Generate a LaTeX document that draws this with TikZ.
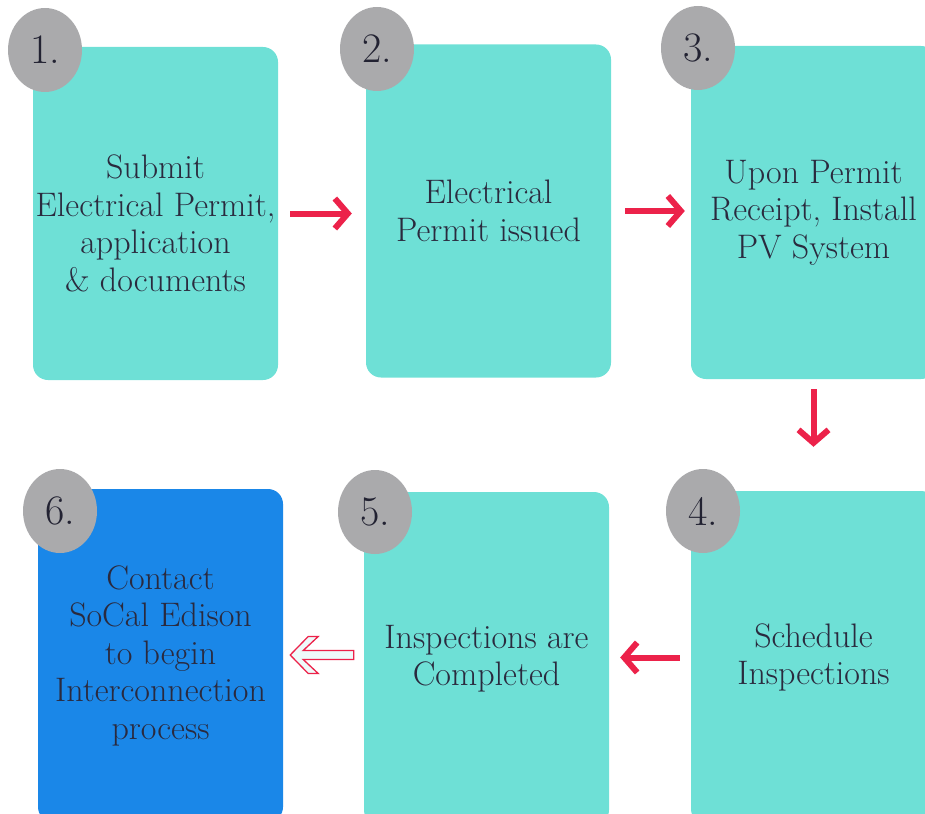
\documentclass[tikz,border=0pt]{standalone}
\usepackage{xcolor}
\usepackage{tikz}
\usetikzlibrary{arrows.meta,positioning,shapes.geometric}

\definecolor{boxteal}{RGB}{110,224,214}
\definecolor{boxblue}{RGB}{26,135,232}
\definecolor{dotgray}{RGB}{170,170,172}
\definecolor{arrowred}{RGB}{236,34,74}
\definecolor{inkdark}{RGB}{42,42,62}
\definecolor{hollowfill}{RGB}{238,250,250}

\begin{document}
\begin{tikzpicture}[
  x=1pt, y=-1pt,
  stepbox/.style={rounded corners=15pt, minimum width=245pt, minimum height=333pt, inner sep=0pt, align=center, fill=boxteal, text=inkdark, font=\fontsize{34}{37.5}\selectfont},
  numdot/.style={ellipse, minimum width=74pt, minimum height=84pt, inner sep=0pt, fill=dotgray, text=inkdark!80!black, font=\fontsize{42}{42}\selectfont},
  flow/.style={-{Straight Barb[length=13pt,width=30pt]}, line width=6pt, draw=arrowred},
  hollowflow/.style={draw=arrowred, fill=hollowfill, line width=1.3pt, line join=miter}
]
\clip (0,0) rectangle (925,813);

\node[stepbox] (submit) at (155.5,213.5) {\rule{0pt}{44pt}Submit\\Electrical Permit,\\application\\\& documents};
\node[stepbox] (issued) at (488.5,211) {Electrical\\Permit issued};
\node[stepbox] (install) at (813.5,212.5) {Upon Permit\\Receipt, Install\\PV System};
\node[stepbox] (schedule) at (813.5,657.5) {Schedule\\Inspections};
\node[stepbox] (inspect) at (486.5,658.5) {Inspections are\\Completed};
\node[stepbox, fill=boxblue] (contact) at (160.5,655.5) {Contact\\SoCal Edison\\to begin\\Interconnection\\process};

\node[numdot] (num1) at (45,50) {1.};
\node[numdot] (num2) at (377,49) {2.};
\node[numdot] (num3) at (698,48) {3.};
\node[numdot] (num4) at (703,511) {4.};
\node[numdot] (num5) at (375,512) {5.};
\node[numdot] (num6) at (60,511) {6.};

\draw[flow, shorten <=12pt, shorten >=14pt] (submit.east) -- (issued.west |- submit.east);
\draw[flow, shorten <=14pt, shorten >=6pt] (issued.east) -- (install.west |- issued.east);
\draw[flow, shorten <=10pt, shorten >=44pt] (install.south) -- (schedule.north);
\draw[flow, shorten <=11pt, shorten >=11pt] (schedule.west) -- (inspect.east |- schedule.west);

% hollow arrow from 5 to 6
\path (contact.east |- inspect.west) ++(7,-3.5) coordinate (hollowtip);
\path (inspect.west) ++(-10,0) coordinate (hollowtail);
\draw[hollowflow] (hollowtip) -- ++(18,-18.5) -- ++(10,0) -- ++(-15,14) coordinate (notchtop)
  -- (notchtop -| hollowtail) -- ++(0,9) coordinate (tailbot) -- (tailbot -| notchtop)
  -- ++(15,14) -- ++(-10,0) -- cycle;
\end{tikzpicture}
\end{document}
